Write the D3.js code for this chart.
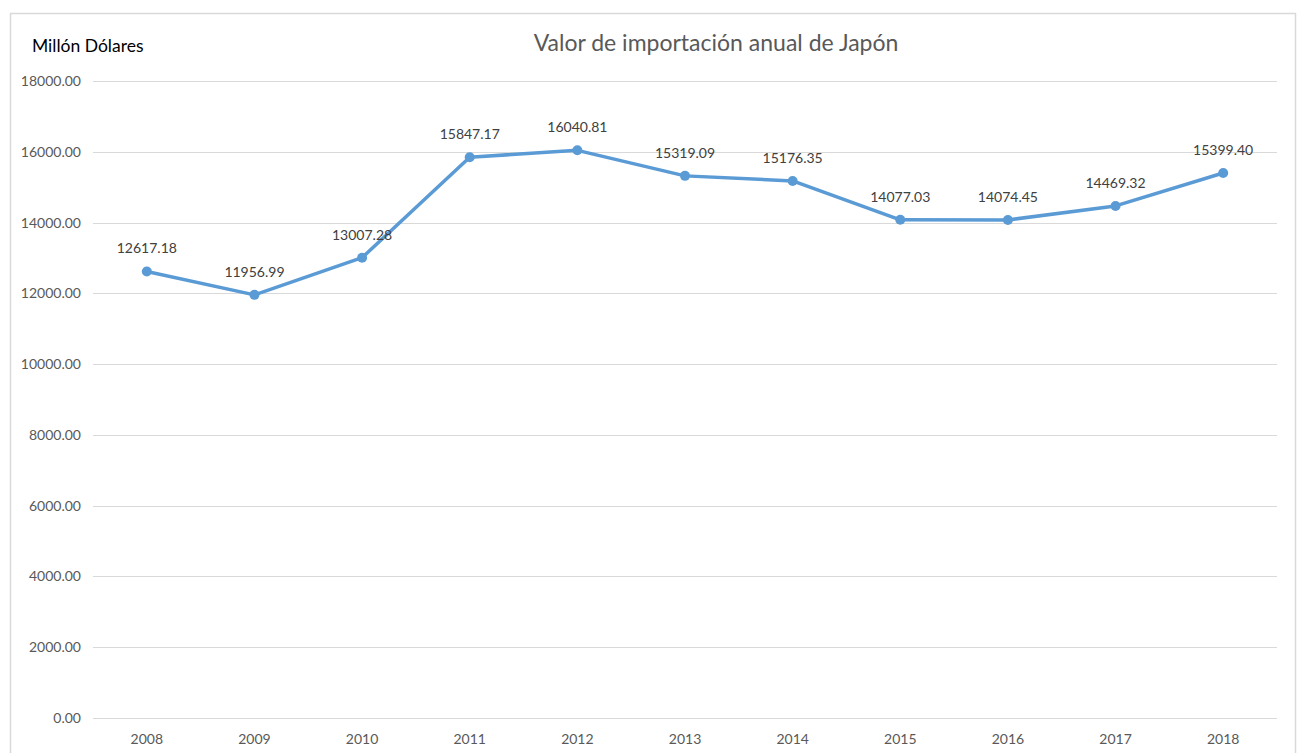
<!DOCTYPE html>
<html><head><meta charset="utf-8">
<script src="https://cdn.jsdelivr.net/npm/d3@7"></script>
<style>body{margin:0;background:#fff;}svg{display:block;font-family:Lato,"Open Sans",sans-serif;}</style>
</head><body>
<svg id="c" width="1302" height="753"></svg>
<script>
const years = ["2008","2009","2010","2011","2012","2013","2014","2015","2016","2017","2018"];
const values = [12617.18, 11956.99, 13007.28, 15847.17, 16040.81, 15319.09, 15176.35, 14077.03, 14074.45, 14469.32, 15399.40];
const yTicks = [0, 2000, 4000, 6000, 8000, 10000, 12000, 14000, 16000, 18000];
const title = "Valor de importación anual de Japón";
const unitLabel = "Millón Dólares";

const svg = d3.select("#c");
svg.append("rect").attr("x",10.5).attr("y",13.5).attr("width",1285).attr("height",760)
  .attr("fill","#fff").attr("stroke","#d9d9d9").attr("stroke-width",1.5);

const x = d3.scaleBand().domain(years).range([93,1277]);
const y = d3.scaleLinear().domain([0,18000]).range([718,81]);

svg.append("g").selectAll("line").data(yTicks).join("line")
  .attr("x1",93).attr("x2",1277)
  .attr("y1",d=>Math.round(y(d))+0.5).attr("y2",d=>Math.round(y(d))+0.5)
  .attr("stroke","#d9d9d9").attr("stroke-width",1);

const yAxis = d3.axisLeft(y).tickValues(yTicks).tickFormat(d=>d3.format(".2f")(d)).tickSize(0).tickPadding(12);
const gy = svg.append("g").attr("transform","translate(93,0)").call(yAxis);
gy.select(".domain").remove();
gy.selectAll("text").attr("fill","#595959").style("font-size","14px").style("font-family","Lato,'Open Sans',sans-serif");

const xAxis = d3.axisBottom(x).tickSize(0).tickPadding(16);
const gx = svg.append("g").attr("transform","translate(0,718)").call(xAxis);
gx.select(".domain").remove();
gx.selectAll("text").attr("fill","#595959").style("font-size","14px").style("font-family","Lato,'Open Sans',sans-serif");

const cx = d => x(d) + x.bandwidth()/2;
const data = years.map((yr,i)=>({yr, v: values[i]}));

svg.append("path").datum(data)
  .attr("fill","none").attr("stroke","#5b9bd5").attr("stroke-width",3.5)
  .attr("stroke-linejoin","round").attr("stroke-linecap","round")
  .attr("d", d3.line().x(d=>cx(d.yr)).y(d=>y(d.v)));

svg.append("g").selectAll("circle").data(data).join("circle")
  .attr("cx",d=>cx(d.yr)).attr("cy",d=>y(d.v)).attr("r",5).attr("fill","#5b9bd5");

svg.append("g").selectAll("text").data(data).join("text")
  .attr("x",d=>cx(d.yr)).attr("y",d=>y(d.v)-18)
  .attr("text-anchor","middle").attr("fill","#404040").style("font-size","14px")
  .text(d=>d3.format(".2f")(d.v));

svg.append("text").attr("x",716).attr("y",51).attr("text-anchor","middle")
  .attr("fill","#595959").style("font-size","23px").text(title);

svg.append("text").attr("x",32).attr("y",52).attr("fill","#000").style("font-size","17.5px").text(unitLabel);
</script>
</body></html>
